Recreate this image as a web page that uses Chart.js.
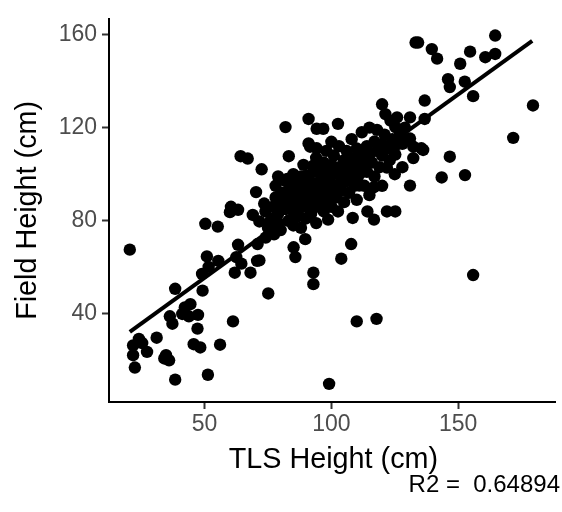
<!DOCTYPE html>
<html>
<head>
<meta charset="utf-8">
<script src="https://cdn.jsdelivr.net/npm/chart.js@4.4.0/dist/chart.umd.min.js"></script>
<style>
  html, body { margin: 0; padding: 0; background: #fff; }
</style>
</head>
<body>
<canvas id="chart" width="562" height="512"></canvas>
<script>
// Данные (TLS / полевые высоты, см)
const tlsHeight = [
  20.5, 24.1, 21.8, 25.4, 27.3, 21.8, 22.5, 31.1, 34.8, 34.1, 36, 38.4, 36.3, 37.3, 38.4,
  42.2, 44.4, 41.2, 43.8, 47.4, 47.2, 45.7, 48.3, 51.3, 56.1, 61.2, 49.2, 49, 50.9, 51.6,
  55.4, 50.3, 55.2, 62.5, 63.2, 64.5, 61.9, 68.1, 70.7, 60, 63.2, 60.4, 69, 64.2, 67,
  72.5, 83.2, 81.9, 94.2, 91.6, 94.2, 100, 92.6, 70.3, 73.5, 71.6, 98.7, 85.1, 85.8, 89.7,
  71.6, 92.9, 92.9, 74.1, 77.4, 70.9, 75.1, 103.9, 110, 117.8, 99.1, 107.8,
  146, 146.7, 136.8, 120, 91, 102.6, 131, 136.8, 96.8, 146.7, 143.5, 152.7, 131, 116.8,
  121.9, 135.5, 132.3, 131, 125.2, 123.3, 121.3, 125.2, 121.9, 125.2, 114.2, 116.8, 102.6,
  108.4, 91, 110.3, 111, 90.3,
  133.2, 134.2, 164.6, 139.6, 141.7, 154.7, 150.8, 160.7, 164.6, 152.6, 155.9, 179.5,
  125.9, 171.7, 132.3, 136.2, 155.9,
  76, 77, 78, 78, 79, 80, 80, 79,
  81, 82, 82, 83, 83, 84, 84, 85, 85, 85,
  86, 86, 87, 87, 88, 88, 88, 89, 89, 90, 90, 90,
  91, 91, 92, 92, 93, 93, 94, 94, 94, 95, 95, 95,
  96, 96, 97, 97, 97, 98, 98, 98, 99, 99, 100, 100, 100,
  101, 101, 102, 102, 103, 103, 104, 104, 105, 105, 105,
  106, 106, 107, 107, 108, 108, 109, 109, 110, 110, 110,
  111, 112, 112, 113, 113, 114, 114, 115, 115, 115,
  116, 117, 117, 118, 118, 119, 120, 120, 120,
  121, 122, 123, 124, 125, 125,
  127, 128, 129, 128,
  82.6, 80, 89, 85.2, 74, 77, 75, 79
];
const fieldHeight = [
  67.6, 29.3, 26.5, 27.5, 23.7, 22.3, 17, 29.8, 22.3, 20.9, 20.1, 11.8, 39, 35.8, 50.8,
  42.8, 44.2, 40, 39, 39.6, 33.7, 27, 25.6, 13.9, 26.8, 36.8, 50, 57.2, 64.7, 60.2,
  62.8, 78.7, 77.5, 64.4, 69.7, 61.6, 57.7, 57.7, 62.8, 83.7, 84.7, 86, 82.5, 107.7, 106.7,
  102.1, 107.7, 120.2, 119.5, 111.8, 111.1, 113.9, 103.5, 92.3, 87.4, 79.7, 80.5, 68.6, 64.4, 72.1,
  63, 57.7, 52.8, 72.8, 74.2, 70, 48.8, 63.7, 36.8, 37.9, 10, 70,
  140.8, 137.4, 131.6, 130, 123.7, 121.6, 124.4, 123.7, 119.5, 107.5, 98.6, 99.6, 95.1, 94.4,
  102.8, 111.1, 106.9, 115.3, 120.2, 123, 125.8, 108.4, 84, 84, 84, 80.5, 84,
  81.2, 113.2, 97.2, 95.1, 99.3,
  156.5, 156.5, 159.5, 153.7, 149.6, 152.6, 147.4, 150.2, 151.6, 139.7, 133.5, 129.5,
  124.4, 115.6, 111.8, 110.4, 56.7,
  80, 86, 90, 95, 83, 88, 76, 99,
  92, 85, 97, 80, 90, 94, 87, 100, 78, 84,
  91, 96, 88, 82, 93, 99, 77, 86, 104, 90, 95, 81,
  98, 87, 93, 83, 101, 89, 96, 107, 79, 92, 86, 102,
  99, 90, 95, 105, 84, 93, 101, 110, 88, 97, 104, 92, 86,
  100, 108, 95, 90, 103, 112, 98, 93, 106, 88, 101,
  110, 97, 103, 92, 115, 100, 107, 95, 104, 111, 89,
  100, 108, 118, 104, 95, 112, 101, 109, 120, 91,
  105, 114, 99, 110, 119, 103, 113, 108, 95,
  117, 111, 106, 115, 112, 100,
  117, 113, 120, 103,
  97.9, 90.9, 92.3, 95.1, 84, 81, 77, 79
];
// Линия регрессии (концы)
const fitX = [20.5, 179.2];
const fitY = [32.3, 157.2];
// Деления осей
const xTicks = [50, 100, 150];
const yTicks = [40, 80, 120, 160];
const r2Label = 'R2 =  0.64894';

const fontFamily = '"Liberation Sans", Arial, sans-serif';

// Подписи осей и R2
const titlesPlugin = {
  id: 'titles',
  afterDraw(chart) {
    const { ctx, chartArea } = chart;
    ctx.save();
    ctx.fillStyle = '#000';
    ctx.font = '28.75px ' + fontFamily;
    ctx.textAlign = 'center';
    ctx.textBaseline = 'alphabetic';
    ctx.fillText('TLS Height (cm)', (chartArea.left + chartArea.right) / 2 + 1, 468);
    ctx.save();
    ctx.translate(35.7, (chartArea.top + chartArea.bottom) / 2);
    ctx.rotate(-Math.PI / 2);
    ctx.fillText('Field Height (cm)', 0, 0);
    ctx.restore();
    ctx.font = '24px ' + fontFamily;
    ctx.textAlign = 'right';
    ctx.fillText(r2Label, 560, 491.5);
    ctx.restore();
  }
};

const points = tlsHeight.map((x, i) => ({ x: x, y: fieldHeight[i] }));
const fitLine = fitX.map((x, i) => ({ x: x, y: fitY[i] }));

new Chart(document.getElementById('chart'), {
  type: 'scatter',
  data: {
    datasets: [
      {
        data: points,
        backgroundColor: '#000',
        borderWidth: 0,
        pointRadius: 6.2,
        pointHoverRadius: 6.2
      },
      {
        type: 'line',
        data: fitLine,
        borderColor: '#000',
        borderWidth: 4,
        pointRadius: 0,
        fill: false
      }
    ]
  },
  plugins: [titlesPlugin],
  options: {
    responsive: false,
    animation: false,
    devicePixelRatio: 1,
    layout: { padding: { top: 9, right: 0, left: 0, bottom: 0 } },
    plugins: { legend: { display: false }, tooltip: { enabled: false } },
    scales: {
      x: {
        type: 'linear',
        min: 12.3,
        max: 188.5,
        afterBuildTicks: s => { s.ticks = xTicks.map(v => ({ value: v })); },
        afterFit: s => { s.height = 110; },
        grid: { drawOnChartArea: false, drawTicks: true, tickLength: 7, tickWidth: 2, tickColor: '#333' },
        border: { display: true, color: '#000', width: 2 },
        ticks: { color: '#4d4d4d', padding: 2, font: { size: 23, family: fontFamily }, maxRotation: 0 }
      },
      y: {
        type: 'linear',
        min: 2.2,
        max: 166.7,
        afterBuildTicks: s => { s.ticks = yTicks.map(v => ({ value: v })); },
        afterFit: s => { s.width = 109; },
        grid: { drawOnChartArea: false, drawTicks: true, tickLength: 7, tickWidth: 2, tickColor: '#333' },
        border: { display: true, color: '#000', width: 2 },
        ticks: { color: '#4d4d4d', padding: 5, font: { size: 23, family: fontFamily } }
      }
    }
  }
});
</script>
</body>
</html>
